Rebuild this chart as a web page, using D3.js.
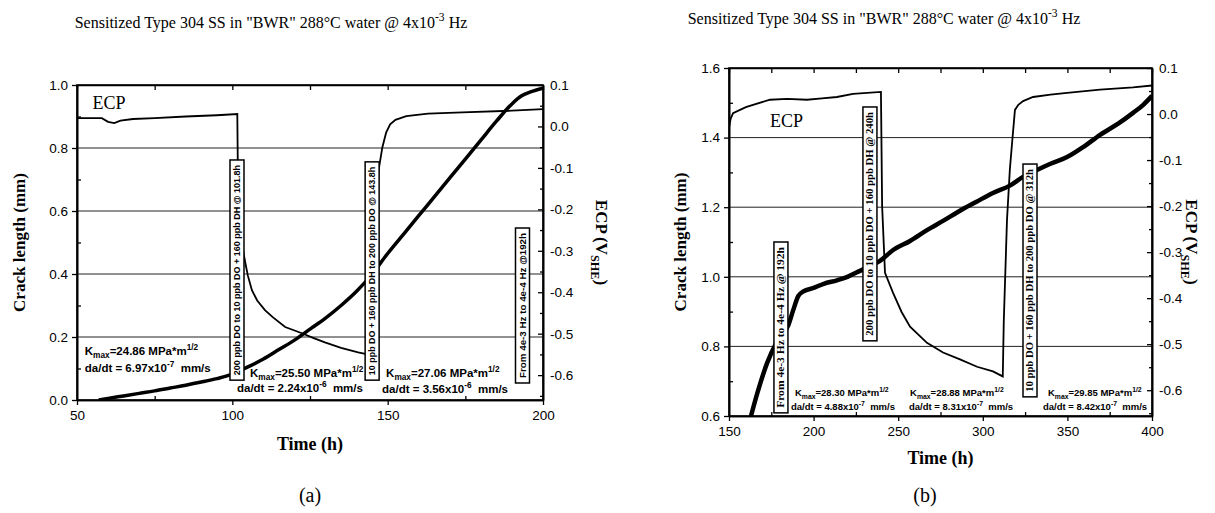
<!DOCTYPE html>
<html>
<head>
<meta charset="utf-8">
<script src="https://cdn.jsdelivr.net/npm/d3@7"></script>
<style>
  body { margin: 0; background: #fff; }
  svg { display: block; }
  text { fill: #000; }
</style>
</head>
<body>
<script>
// ---- panel (a): 50-200 h ----
var crackTimeA = [57, 60, 65, 70, 75, 80, 85, 90, 95, 100, 105, 110, 115, 120, 125, 130, 135, 140, 145, 150, 155, 160, 165, 170, 175, 180, 185, 190, 193, 196, 200]
var crackA = [0, 0.005, 0.013, 0.021, 0.029, 0.038, 0.047, 0.057, 0.068, 0.082, 0.105, 0.13, 0.16, 0.19, 0.225, 0.26, 0.3, 0.345, 0.4, 0.465, 0.525, 0.585, 0.645, 0.705, 0.765, 0.825, 0.885, 0.94, 0.965, 0.978, 0.99]
var ecpTimeA = [50, 58, 60, 62, 64, 68, 75, 85, 95, 101.6, 101.9, 103, 104.2, 105, 106.3, 108, 110.5, 113, 117, 122.4, 126, 129.8, 135, 140.5, 143.6, 144.3, 145.5, 147.2, 148.3, 149.5, 150.8, 152.5, 156, 163, 174, 190, 200]
var ecpA = [0.02, 0.02, 0.011, 0.008, 0.014, 0.018, 0.02, 0.024, 0.027, 0.03, -0.2, -0.28, -0.33, -0.36, -0.395, -0.42, -0.443, -0.46, -0.484, -0.499, -0.51, -0.521, -0.534, -0.545, -0.55, -0.35, -0.2, -0.1, -0.05, -0.015, 0.005, 0.016, 0.025, 0.031, 0.034, 0.038, 0.042]

// ---- panel (b): 150-400 h ----
var crackTimeB = [163, 167, 172.5, 178, 185, 188, 191, 194, 200, 206, 213.8, 220, 227.4, 233, 239, 247, 257, 267, 277, 286.5, 296, 306, 316, 323.8, 332, 340, 349.8, 360, 369.3, 380, 388.8, 395, 400]
var crackB = [0.6, 0.67, 0.752, 0.81, 0.86, 0.905, 0.945, 0.958, 0.968, 0.98, 0.99, 1.0, 1.017, 1.03, 1.045, 1.077, 1.103, 1.134, 1.162, 1.19, 1.215, 1.241, 1.262, 1.287, 1.307, 1.325, 1.344, 1.375, 1.408, 1.44, 1.471, 1.495, 1.52]
var ecpTimeB = [150, 151, 152.4, 156.5, 160, 164.2, 174.2, 184.3, 196.1, 205, 213.8, 223.3, 239.8, 240.5, 242.2, 246.9, 252, 257, 267, 276.5, 286.5, 296.6, 306, 311.8, 312.4, 314.3, 316, 317.3, 319, 321, 323.8, 329.7, 340, 349.8, 369.3, 388.8, 400]
var ecpB = [-0.03, -0.01, 0.002, 0.009, 0.015, 0.02, 0.031, 0.033, 0.031, 0.034, 0.037, 0.044, 0.048, -0.2, -0.345, -0.388, -0.43, -0.462, -0.497, -0.518, -0.533, -0.549, -0.559, -0.57, -0.45, -0.23, -0.12, -0.063, 0.009, 0.02, 0.028, 0.037, 0.042, 0.046, 0.053, 0.058, 0.062]

// event boxes (time, crack top, crack bottom)
var boxesA = [
  { t: 101.5, top: 0.762, bottom: 0.063, text: '200 ppb DO to 10 ppb DO + 160 ppb DH @ 101.8h' },
  { t: 145.0, top: 0.756, bottom: 0.063, text: '10 ppb DO + 160 ppb DH to 200 ppb DO @ 143.8h' },
  { t: 193.4, top: 0.546, bottom: 0.054, text: 'From 4e-3 Hz to 4e-4 Hz @192h' }
]
var boxesB = [
  { t: 180.7, top: 1.1, bottom: 0.609, text: 'From 4e-3 Hz to 4e-4 Hz @ 192h' },
  { t: 233.3, top: 1.488, bottom: 0.816, text: '200 ppb DO to 10 ppb DO + 160 ppb DH @ 240h' },
  { t: 327.9, top: 1.324, bottom: 0.655, text: '10 ppb DO + 160 ppb DH to 200 ppb DO @ 312h' }
]

// rate annotations: [time, crack] for the Kmax line and the da/dt line
var kmaxA = ['24.86', '25.50', '27.06']
var rateA = [['6.97', '-7'], ['2.24', '-6'], ['3.56', '-6']]
var kmaxPosA = [[52.5, 0.143], [105.7, 0.073], [149.5, 0.073]]
var ratePosA = [[52.5, 0.089], [101.5, 0.025], [148.2, 0.022]]
var kmaxB = ['28.30', '28.88', '29.85']
var rateB = [['4.88', '-7'], ['8.31', '-7'], ['8.42', '-7']]
var kmaxPosB = [[189, 0.657], [257, 0.657], [338.5, 0.657]]
var ratePosB = [[186.6, 0.617], [256.4, 0.617], [335.6, 0.617]]

var SERIF = '"Liberation Serif", "Times New Roman", serif'
var SANS = '"Liberation Sans", Arial, sans-serif'

var svg = d3.select('body').append('svg').attr('width', 1215).attr('height', 513)

function richText (g, x, y, parts, size) {
  var t = g.append('text').attr('x', x).attr('y', y)
    .style('font-size', size + 'px').style('white-space', 'pre')
  var shift = 0
  parts.forEach(function (p) {
    var s = p[1] === 'sub' ? size * 0.3 : p[1] === 'sup' ? -size * 0.42 : 0
    t.append('tspan').attr('dy', s - shift)
      .style('font-size', p[1] ? (size * 0.72) + 'px' : null)
      .text(p[0])
    shift = s
  })
  return t
}

function fmt1 (v) { return v.toFixed(1) }

function drawPanel (p) {
  var g = svg.append('g')
  var x = d3.scaleLinear().domain(p.xDom).range([p.left, p.right])
  var y = d3.scaleLinear().domain(p.yDom).range([p.bottom, p.top])
  var e = d3.scaleLinear().domain(p.eDom).range([p.bottom, p.top])

  // grid lines on crack length
  g.append('g').selectAll('line').data(p.yGrid).join('line')
    .attr('x1', p.left).attr('x2', p.right)
    .attr('y1', y).attr('y2', y)
    .attr('stroke', '#222').attr('stroke-width', 1)

  svg.append('clipPath').attr('id', 'clip-' + p.id).append('rect')
    .attr('x', p.left).attr('y', p.top)
    .attr('width', p.right - p.left).attr('height', p.bottom - p.top)

  var lines = g.append('g').attr('clip-path', 'url(#clip-' + p.id + ')')
  lines.append('path')
    .datum(d3.zip(p.ecpTime, p.ecp))
    .attr('d', d3.line().x(function (d) { return x(d[0]) }).y(function (d) { return e(d[1]) }))
    .attr('fill', 'none').attr('stroke', '#000').attr('stroke-width', 1.8)
  lines.append('path')
    .datum(d3.zip(p.crackTime, p.crack))
    .attr('d', d3.line().curve(d3.curveMonotoneX).x(function (d) { return x(d[0]) }).y(function (d) { return y(d[1]) }))
    .attr('fill', 'none').attr('stroke', '#000').attr('stroke-width', p.crackWidth)
    .attr('stroke-linejoin', 'round')

  // event boxes
  var bw = 14
  var bx = g.append('g').selectAll('g').data(p.boxes).join('g')
  bx.append('rect')
    .attr('x', function (d) { return x(d.t) - bw / 2 })
    .attr('y', function (d) { return y(d.top) })
    .attr('width', bw)
    .attr('height', function (d) { return y(d.bottom) - y(d.top) })
    .attr('fill', '#fff').attr('stroke', '#000').attr('stroke-width', 1.5)
  bx.append('text')
    .attr('transform', function (d) {
      return 'translate(' + (x(d.t) + 3.2) + ',' + ((y(d.top) + y(d.bottom)) / 2) + ') rotate(-90)'
    })
    .attr('text-anchor', 'middle')
    .attr('textLength', function (d) { return y(d.bottom) - y(d.top) - 10 })
    .attr('lengthAdjust', 'spacingAndGlyphs')
    .style('font-family', p.boxFont).style('font-weight', 'bold').style('font-size', '9.5px')
    .text(function (d) { return d.text })

  // rate annotations
  var ann = g.append('g').style('font-family', SANS).style('font-weight', 'bold')
  p.kmax.forEach(function (k, i) {
    richText(ann, x(p.kmaxPos[i][0]), y(p.kmaxPos[i][1]),
      [['K'], ['max', 'sub'], ['=' + k + ' MPa*m'], ['1/2', 'sup']], p.annSize)
    richText(ann, x(p.ratePos[i][0]), y(p.ratePos[i][1]),
      [['da/dt = ' + p.rate[i][0] + 'x10'], [p.rate[i][1], 'sup'], ['  mm/s']], p.annSize)
  })

  // ECP label
  g.append('text').attr('x', x(p.ecpLabel[0])).attr('y', y(p.ecpLabel[1]))
    .style('font-family', SERIF).style('font-size', p.ecpLabelSize + 'px').text('ECP')

  // axes
  var ax = g.append('g')
  ax.append('g').attr('transform', 'translate(0,' + p.bottom + ')')
    .call(d3.axisBottom(x).tickValues(p.xMajor).tickSize(5).tickSizeOuter(0).tickPadding(p.xPad).tickFormat(d3.format('d')))
  ax.append('g').attr('transform', 'translate(0,' + p.bottom + ')')
    .call(d3.axisBottom(x).tickValues(p.xMinor).tickSize(-4).tickSizeOuter(0).tickFormat(''))
  ax.append('g').attr('transform', 'translate(0,' + p.top + ')')
    .call(d3.axisTop(x).tickValues(p.xMajor.concat(p.xMinor)).tickSize(-5).tickSizeOuter(0).tickFormat(''))
  ax.append('g').attr('transform', 'translate(' + p.left + ',0)')
    .call(d3.axisLeft(y).tickValues(p.yMajor).tickSize(5).tickSizeOuter(0).tickPadding(4).tickFormat(fmt1))
  ax.append('g').attr('transform', 'translate(' + p.left + ',0)')
    .call(d3.axisLeft(y).tickValues(p.yMinor).tickSize(-4).tickSizeOuter(0).tickFormat(''))
  ax.append('g').attr('transform', 'translate(' + p.right + ',0)')
    .call(d3.axisRight(e).tickValues(p.eMajor).tickSize(-5).tickSizeOuter(0).tickPadding(7).tickFormat(fmt1))
  ax.append('g').attr('transform', 'translate(' + p.right + ',0)')
    .call(d3.axisRight(e).tickValues(p.eMinor).tickSize(-3).tickSizeOuter(0).tickFormat(''))
  ax.selectAll('.domain').attr('stroke-width', 1.6)
  ax.selectAll('.tick line').attr('stroke-width', 1.3)
  ax.selectAll('.tick text').style('font-family', SANS).style('font-size', '13.5px')
  // frame (top/right edges)
  ax.append('rect').attr('x', p.left).attr('y', p.top)
    .attr('width', p.right - p.left).attr('height', p.bottom - p.top)
    .attr('fill', 'none').attr('stroke', '#000').attr('stroke-width', 1.6)

  // titles and axis labels
  richText(g, p.titleX, p.titleY,
    [['Sensitized Type 304 SS in "BWR" 288°C water @ 4x10'], ['-3', 'sup'], [' Hz']], 16)
    .attr('text-anchor', 'middle').style('font-family', SERIF)

  g.append('text')
    .attr('transform', 'translate(' + p.yLabelX + ',' + ((p.top + p.bottom) / 2) + ') rotate(-90)')
    .attr('text-anchor', 'middle')
    .style('font-family', SERIF).style('font-weight', 'bold').style('font-size', '17px')
    .text('Crack length (mm)')

  var eg = g.append('g')
    .attr('transform', 'translate(' + p.eLabelX + ',' + ((p.top + p.bottom) / 2) + ') rotate(90)')
  richText(eg, 0, 0, [['ECP (V'], ['SHE', 'sub'], [')']], 17)
    .attr('text-anchor', 'middle')
    .style('font-family', SERIF).style('font-weight', 'bold')

  g.append('text').attr('x', (p.left + p.right) / 2).attr('y', p.xLabelY)
    .attr('text-anchor', 'middle')
    .style('font-family', SERIF).style('font-weight', 'bold').style('font-size', '18px')
    .text('Time (h)')

  g.append('text').attr('x', p.capX).attr('y', 502)
    .attr('text-anchor', 'middle')
    .style('font-family', SERIF).style('font-size', '20px')
    .text('(' + p.id + ')')
}

function steps (a, b, s) {
  var n = Math.round((b - a) / s)
  return d3.range(n + 1).map(function (i) { return Math.round((a + i * s) * 1000) / 1000 })
}

drawPanel({
  id: 'a', left: 77, right: 543, top: 85, bottom: 400,
  xDom: [50, 200], yDom: [0, 1], eDom: [-0.66, 0.1],
  xMajor: steps(50, 200, 50), xMinor: steps(75, 175, 50),
  yMajor: steps(0, 1, 0.2), yMinor: steps(0.1, 0.9, 0.2), yGrid: steps(0.2, 0.8, 0.2),
  eMajor: steps(-0.6, 0.1, 0.1), eMinor: steps(-0.65, 0.05, 0.1),
  crackTime: crackTimeA, crack: crackA, ecpTime: ecpTimeA, ecp: ecpA, crackWidth: 3.5,
  boxes: boxesA, boxFont: SANS,
  kmax: kmaxA, rate: rateA, kmaxPos: kmaxPosA, ratePos: ratePosA, annSize: 11.5,
  ecpLabel: [55, 0.925], ecpLabelSize: 18,
  xPad: 5, xLabelY: 450, titleX: 271, titleY: 28, yLabelX: 25, eLabelX: 596, capX: 310
})

drawPanel({
  id: 'b', left: 729, right: 1152, top: 68, bottom: 416,
  xDom: [150, 400], yDom: [0.6, 1.6], eDom: [-0.656, 0.1],
  xMajor: steps(150, 400, 50), xMinor: steps(175, 375, 50),
  yMajor: steps(0.6, 1.6, 0.2), yMinor: steps(0.7, 1.5, 0.2), yGrid: steps(0.8, 1.4, 0.2),
  eMajor: steps(-0.6, 0.1, 0.1), eMinor: steps(-0.65, 0.05, 0.1),
  crackTime: crackTimeB, crack: crackB, ecpTime: ecpTimeB, ecp: ecpB, crackWidth: 4.5,
  boxes: boxesB, boxFont: SERIF,
  kmax: kmaxB, rate: rateB, kmaxPos: kmaxPosB, ratePos: ratePosB, annSize: 9.5,
  ecpLabel: [174.2, 1.43], ecpLabelSize: 18,
  xPad: 5, xLabelY: 464, titleX: 884, titleY: 24, yLabelX: 686, eLabelX: 1186, capX: 925
})
</script>
</body>
</html>
